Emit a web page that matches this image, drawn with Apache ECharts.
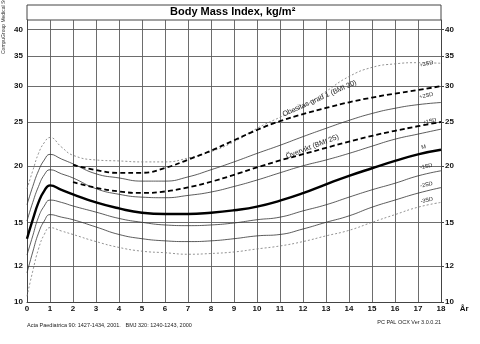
<!DOCTYPE html>
<html><head><meta charset="utf-8">
<script src="https://cdn.jsdelivr.net/npm/echarts@6/dist/echarts.min.js"></script>
<style>html,body{margin:0;padding:0;background:#fff}#c{width:480px;height:344px}</style>
</head><body><div id="c"></div>
<script>
// ---- data ----
const ages = [0, 0.25, 0.5, 0.75, 1, 1.5, 2, 3, 4, 5, 6, 7, 8, 9, 10, 11, 12, 13, 14, 15, 16, 17, 18];
const sdPlus3  = [17.8, 19.5, 21.3, 22.5, 23.1, 22.0, 21.1, 20.6, 20.5, 20.4, 20.4, 20.8, 21.5, 22.6, 24.2, 25.6, 27.0, 29.2, 31.5, 33.0, 33.6, 33.8, 33.7];
const sdPlus2  = [16.4, 18.0, 19.5, 20.6, 21.2, 20.7, 20.2, 19.2, 18.8, 18.5, 18.5, 18.9, 19.6, 20.4, 21.3, 22.2, 23.2, 24.2, 25.2, 26.1, 26.8, 27.3, 27.6];
const sdPlus1  = [15.1, 16.6, 18.0, 19.1, 19.6, 19.2, 18.8, 17.8, 17.3, 17.05, 17.0, 17.2, 17.5, 18.0, 18.6, 19.3, 20.0, 20.6, 21.3, 22.1, 22.9, 23.5, 24.1];
const median   = [13.8, 15.2, 16.6, 17.6, 18.1, 17.7, 17.3, 16.6, 16.1, 15.75, 15.65, 15.65, 15.75, 15.95, 16.25, 16.75, 17.4, 18.2, 19.0, 19.75, 20.5, 21.2, 21.7];
const sdMinus1 = [12.7, 14.0, 15.4, 16.3, 16.8, 16.6, 16.3, 15.8, 15.3, 15.0, 14.8, 14.75, 14.8, 14.95, 15.2, 15.4, 15.9, 16.4, 17.05, 17.7, 18.3, 19.0, 19.5];
const sdMinus2 = [11.6, 12.9, 14.2, 15.1, 15.6, 15.4, 15.2, 14.65, 14.1, 13.8, 13.65, 13.6, 13.65, 13.8, 14.0, 14.1, 14.5, 15.0, 15.5, 16.2, 16.8, 17.4, 17.9];
const sdMinus3 = [10.3, 11.7, 13.1, 14.1, 14.6, 14.35, 14.1, 13.6, 13.2, 12.95, 12.85, 12.75, 12.8, 12.9, 13.1, 13.3, 13.6, 14.0, 14.4, 15.0, 15.6, 16.2, 16.6];
const isoAges  = [2, 3, 4, 5, 6, 7, 8, 9, 10, 11, 12, 13, 14, 15, 16, 17, 18];
const isoBmi30 = [20.09, 19.57, 19.29, 19.30, 19.78, 20.63, 21.60, 22.77, 24.00, 25.10, 26.02, 26.84, 27.63, 28.30, 28.88, 29.41, 30.00];
const isoBmi25 = [18.41, 17.89, 17.55, 17.42, 17.55, 17.92, 18.44, 19.10, 19.84, 20.55, 21.22, 21.91, 22.62, 23.29, 23.90, 24.46, 25.00];
const yTicks = [10, 12, 15, 20, 25, 30, 35, 40];
const sdLabels = ['+3SD', '+2SD', '+1SD', 'M', '-1SD', '-2SD', '-3SD'];
const titleText = 'Body Mass Index, kg/m²';
const xName = 'År';
const label30 = 'Obesitas grad 1 (BMI 30)';
const label25 = 'Övervikt (BMI 25)';

// ---- rendering ----
const FF = '"Liberation Sans", Arial, sans-serif';
const chart = echarts.init(document.getElementById('c'), null, {renderer: 'canvas'});

// label offsets are rotated together with the label, so pre-rotate them back
function rotOff(dx, dy, deg) {
  const t = deg * Math.PI / 180, c = Math.cos(t), s = Math.sin(t);
  return [dx * c - dy * s, dx * s + dy * c];
}
function build(xs, ys, labelIdx, labelCfg) {
  return xs.map((a, i) => {
    const d = {value: [a, ys[i]]};
    if (i === labelIdx) d.label = Object.assign({show: true, position: 'inside', fontFamily: FF, color: '#222'}, labelCfg);
    return d;
  });
}
const thin = {color: '#333', width: 0.8};
const dotted = {color: '#777', width: 0.8, type: [2, 2]};
const sdStyles = [dotted, thin, thin, {color: '#000', width: 2.4}, thin, thin, dotted];
const sdSeries = [sdPlus3, sdPlus2, sdPlus1, median, sdMinus1, sdMinus2, sdMinus3];
const sdOffsets = [[8, 3], [10, -7], [14, -10], [7, -6], [10, -7.5], [10, -6.5], [10, -5]];
const LI = ages.indexOf(17);

const common = {type: 'line', smooth: true, symbol: 'circle', symbolSize: 0, showSymbol: true, silent: true};
const series = sdSeries.map((vals, k) => Object.assign({}, common, {
  name: sdLabels[k], lineStyle: sdStyles[k], z: k === 3 ? 5 : 3,
  data: build(ages, vals, LI, {formatter: sdLabels[k], fontSize: 5.5, rotate: 12, offset: sdOffsets[k]})
}));
series.push(Object.assign({}, common, {
  name: 'BMI30', lineStyle: {color: '#000', width: 1.8, type: [5, 3]}, z: 4,
  data: build(isoAges, isoBmi30, isoAges.indexOf(13), {formatter: label30, fontSize: 7.2, rotate: 24, offset: rotOff(-6.5, -9.5, 24)})
}));
series.push(Object.assign({}, common, {
  name: 'BMI25', lineStyle: {color: '#000', width: 1.8, type: [5, 3]}, z: 4,
  data: build(isoAges, isoBmi25, isoAges.indexOf(12), {formatter: label25, fontSize: 7.2, rotate: 21, offset: rotOff(9.5, -7.5, 21)})
}));

const gridLine = {color: '#5c5c5c', width: 0.9};
const yBase = {
  type: 'log', logBase: 10, min: 10, max: 42,
  axisLine: {show: true, lineStyle: {color: '#444', width: 1}},
  axisLabel: {customValues: yTicks, fontSize: 8, fontWeight: 'bold', color: '#111', fontFamily: FF},
};
chart.setOption({
  animation: false,
  backgroundColor: '#fff',
  title: {text: titleText, left: 170, top: 6, padding: 0,
    textStyle: {fontSize: 11, fontWeight: 'bold', color: '#000', fontFamily: FF}},
  grid: {left: 27, right: 39, top: 20, bottom: 42, outerBoundsMode: 'none'},
  xAxis: {
    type: 'value', min: 0, max: 18, interval: 1,
    axisLine: {show: true, onZero: false, lineStyle: {color: '#444', width: 1}},
    axisTick: {show: false},
    axisLabel: {fontSize: 8, fontWeight: 'bold', color: '#111', margin: 3, fontFamily: FF},
    splitLine: {show: true, lineStyle: gridLine},
    name: xName, nameLocation: 'end', nameGap: 5,
    nameTextStyle: {fontSize: 8, fontWeight: 'bold', color: '#111', fontFamily: FF, verticalAlign: 'top', align: 'left', padding: [3, 0, 0, 0]}
  },
  yAxis: [
    Object.assign({}, yBase, {position: 'left',
      axisTick: {show: false, customValues: yTicks},
      axisLabel: Object.assign({}, yBase.axisLabel, {margin: 4}),
      splitLine: {show: true, lineStyle: gridLine}}),
    Object.assign({}, yBase, {position: 'right',
      axisTick: {show: true, customValues: yTicks, length: 3, inside: false, lineStyle: {color: '#444'}},
      axisLabel: Object.assign({}, yBase.axisLabel, {margin: 4}),
      splitLine: {show: false}})
  ],
  graphic: [
    {type: 'rect', shape: {x: 27, y: 5, width: 414, height: 15}, style: {fill: 'none', stroke: '#444', lineWidth: 1}, silent: true},
    {type: 'text', x: 4, y: 54, rotation: Math.PI / 2, silent: true,
      style: {text: 'CompuGroup Medical Sweden', fontSize: 5, fill: '#333', fontFamily: FF, align: 'left', verticalAlign: 'middle'}},
    {type: 'text', x: 27, y: 325, silent: true,
      style: {text: 'Acta Paediatrica 90: 1427-1434, 2001.   BMJ 320: 1240-1243, 2000', fontSize: 5.5, fill: '#222', fontFamily: FF, align: 'left', verticalAlign: 'middle'}},
    {type: 'text', x: 441, y: 322, silent: true,
      style: {text: 'PC PAL OCX Ver 3.0.0.21', fontSize: 5.5, fill: '#222', fontFamily: FF, align: 'right', verticalAlign: 'middle'}}
  ],
  series: series
});
</script>
</body></html>
